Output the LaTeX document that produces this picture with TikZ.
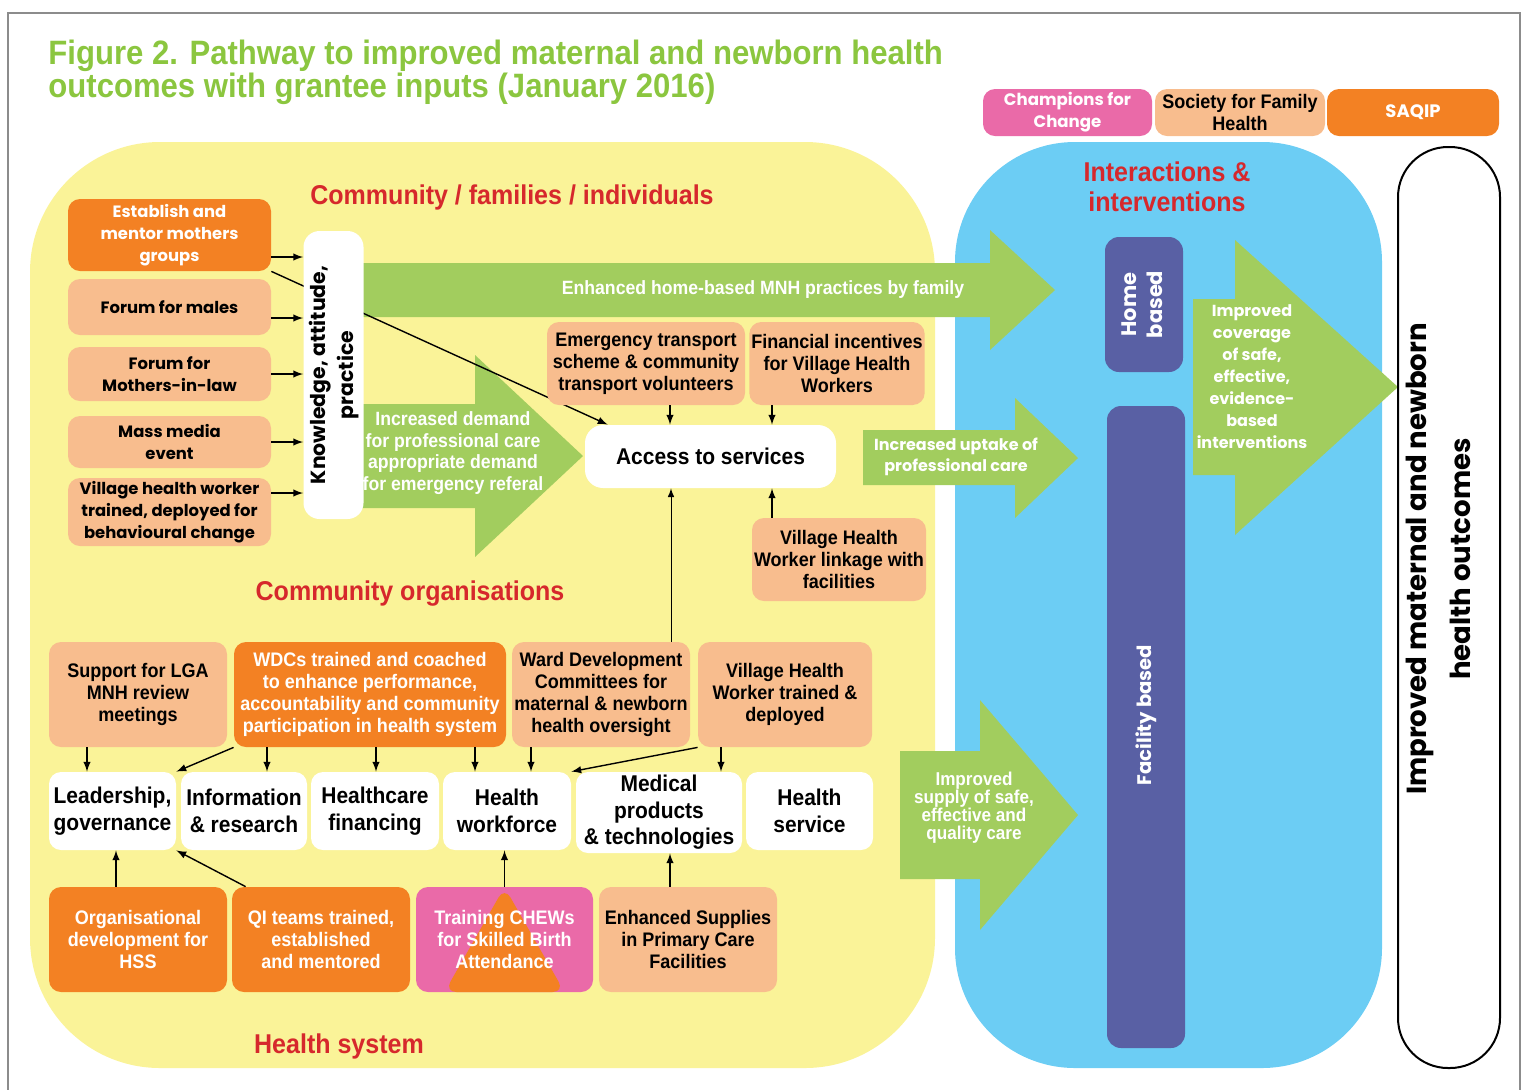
\documentclass[tikz,border=0pt]{standalone}
\usepackage{graphicx}
\usepackage{fontspec}
\setmainfont{Poppins}
\newfontfamily\condfont[FakeStretch=0.92]{Liberation Sans}
\usepackage{tikz}
\definecolor{HsYellow}{RGB}{250,243,152}
\definecolor{HsBlue}{RGB}{108,205,244}
\definecolor{HsIndigo}{RGB}{89,96,164}
\definecolor{HsOrange}{RGB}{243,129,35}
\definecolor{HsPeach}{RGB}{248,189,142}
\definecolor{HsPink}{RGB}{234,106,168}
\definecolor{HsGreen}{RGB}{162,205,94}
\definecolor{HsTitle}{RGB}{139,198,63}
\definecolor{HsRed}{RGB}{214,40,44}

\begin{document}
\begin{tikzpicture}[x=0.5pt,y=-0.5pt]
      \tikzstyle{box}=[rounded corners=6pt, align=center, inner sep=1pt, font=\condfont\bfseries\fontsize{9.8}{11}\selectfont];
      \tikzstyle{peach}=[box, fill=HsPeach];
      \tikzstyle{orng}=[box, fill=HsOrange, text=white];
      \tikzstyle{geo}=[font=\bfseries\fontsize{8.2}{11}\selectfont];
      \tikzstyle{sysbox}=[box, fill=white, font=\condfont\bfseries\fontsize{11.4}{13.3}\selectfont];
      \tikzstyle{band}=[rounded corners=7pt, fill=HsIndigo, text=white, inner sep=1pt];
      \tikzstyle{arr}=[-latex, line width=.7pt];
      \tikzstyle{garrow}=[fill=HsGreen];
      \tikzstyle{gtext}=[text=white, align=center, inner sep=0pt, font=\condfont\bfseries\fontsize{9.6}{10.8}\selectfont];
      \tikzstyle{heading}=[text=HsRed, align=center, inner sep=0pt, font=\condfont\bfseries\fontsize{13.6}{15}\selectfont];
      \tikzset{wh/.style 2 args={minimum width=#1*.5pt, minimum height=#2*.5pt}}

      \pgfdeclarelayer{background}
      \pgfdeclarelayer{middle}
      \pgfsetlayers{background,middle,main}

      \useasboundingbox (0,0) rectangle (1526,1089);
      \begin{pgfonlayer}{background}
        \draw[black!45, line width=1pt] (8,13) rectangle (1520,1110);
        \fill[HsYellow, rounded corners=65pt] (30,142) rectangle (935,1068);
        \fill[HsBlue, rounded corners=60pt] (955,142) rectangle (1382,1068);
      \end{pgfonlayer}

      \node[anchor=west, align=left, inner sep=0pt, text=HsTitle, font=\condfont\bfseries\fontsize{16.9}{16.5}\selectfont] (title) at (48,72) {Figure 2. Pathway to improved maternal and newborn health\\outcomes with grantee inputs (January 2016)};

      \node[box, fill=HsPink, text=white, wh={169}{47}, font=\bfseries\fontsize{8.3}{11}\selectfont] (champ) at (1067.5,112.5) {Champions for\\Change};
      \node[peach, wh={170}{47}] (sfh) at (1240,112.5) {Society for Family\\Health};
      \node[orng, wh={172}{47}, font=\bfseries\fontsize{9}{11}\selectfont] (saqip) at (1413,112.5) {SAQIP};

      \node[heading] (hcomm) at (512,197) {Community / families / individuals};
      \node[heading] (hinter) at (1167,187) {Interactions \&\\interventions};
      \node[heading] (horg) at (410,594) {Community organisations};
      \node[heading] (hsys) at (339,1046) {Health system};

      % community inputs
      \node[orng, geo, wh={203}{72}] (mothers) at (169.5,235) {Establish and\\mentor mothers\\groups};
      \node[peach, geo, wh={203}{56}] (males) at (169.5,307) {Forum for males};
      \node[peach, geo, wh={203}{54}] (inlaw) at (169.5,374) {Forum for\\Mothers-in-law};
      \node[peach, geo, wh={203}{52}] (media) at (169.5,442) {Mass media\\event};
      \node[peach, geo, wh={203}{68}] (vhw) at (169.5,512) {Village health worker\\trained, deployed for\\behavioural change};
      \node[box, fill=white, wh={51}{288}, rounded corners=8pt, font=\bfseries\fontsize{10.2}{14}\selectfont] (kap) at (333.5,375) {\rotatebox{90}{\begin{tabular}{@{}c@{}}Knowledge, attitude,\\practice\end{tabular}}};

      \node[peach, wh={198}{83}] (emerg) at (646,363.5) {Emergency transport\\scheme \& community\\transport volunteers};
      \node[peach, wh={170}{83}] (fininc) at (837,363.5) {Financial incentives\\for Village Health\\Workers};
      \node[box, fill=white, wh={251}{63}, rounded corners=9pt, font=\condfont\bfseries\fontsize{11.4}{13}\selectfont] (access) at (710.5,456.5) {Access to services};
      \node[peach, wh={170}{83}] (linkage) at (839,559.5) {Village Health\\Worker linkage with\\facilities};

      \node[band, wh={78}{135}, font=\bfseries\fontsize{10.5}{13}\selectfont] (home) at (1144,304.5) {\rotatebox{90}{\begin{tabular}{@{}c@{}}Home\\based\end{tabular}}};
      \node[band, wh={78}{642}, font=\bfseries\fontsize{9.8}{11}\selectfont] (facility) at (1146,727) {\rotatebox{90}{\hspace*{12pt}Facility based}};
      \node[draw, fill=white, line width=1pt, rounded corners=25pt, wh={102}{921}] (outcome) at (1449,607.5) {};
      \node[font=\bfseries\fontsize{13.8}{22}\selectfont] (outtext) at (1440,559) {\rotatebox{90}{\begin{tabular}{@{}c@{}}Improved maternal and newborn\\health outcomes\end{tabular}}};

      % health system
      \node[peach, wh={178}{105}] (lga) at (138,694.5) {Support for LGA\\MNH review\\meetings};
      \node[orng, wh={272}{105}] (wdc) at (370,694.5) {WDCs trained and coached\\to enhance performance,\\accountability and community\\participation in health system};
      \node[peach, wh={178}{105}] (ward) at (601,694.5) {Ward Development\\Committees for\\maternal \& newborn\\health oversight};
      \node[peach, wh={174}{105}] (vhwtd) at (785,694.5) {Village Health\\Worker trained \&\\deployed};

      \node[sysbox, wh={127}{78}] (lead) at (112.5,811) {Leadership,\\governance};
      \node[sysbox, wh={126}{78}] (info) at (244,811) {Information\\\& research};
      \node[sysbox, wh={128}{78}] (hfin) at (375,811) {Healthcare\\financing};
      \node[sysbox, wh={128}{78}] (wforce) at (507,811) {Health\\workforce};
      \node[sysbox, wh={166}{81}] (medprod) at (659,812.5) {Medical\\products\\\& technologies};
      \node[sysbox, wh={127}{78}] (hserv) at (809.5,811) {Health\\service};

      \node[orng, wh={178}{105}] (orgdev) at (138,939.5) {Organisational\\development for\\HSS};
      \node[orng, wh={178}{105}] (qiteam) at (321,939.5) {QI teams trained,\\established\\and mentored};
      \node[box, fill=HsPink, text=white, wh={177}{105}, path picture={\fill[HsOrange] (path picture bounding box.north) -- ([xshift=30pt]path picture bounding box.south) -- ([xshift=-30pt]path picture bounding box.south) -- cycle;}] (chews) at (504.5,939.5) {Training CHEWs\\for Skilled Birth\\Attendance};
      \node[peach, wh={178}{105}] (supplies) at (688,939.5) {Enhanced Supplies\\in Primary Care\\Facilities};

      \begin{pgfonlayer}{middle}
        \fill[garrow] (359,263) -- (990,263) -- (990,230) -- (1055,290) -- (990,350) -- (990,317) -- (359,317) -- cycle;
        \fill[garrow] (359,404) -- (475,404) -- (475,355) -- (583,456) -- (475,557) -- (475,508) -- (359,508) -- cycle;
        \fill[garrow] (863,430) -- (1015,430) -- (1015,398) -- (1078,458) -- (1015,518) -- (1015,485) -- (863,485) -- cycle;
        \fill[garrow] (1193,299) -- (1235,299) -- (1235,240) -- (1398,387) -- (1235,535) -- (1235,475) -- (1193,475) -- cycle;
        \fill[garrow] (900,751) -- (980,751) -- (980,700) -- (1078,815) -- (980,930) -- (980,879) -- (900,879) -- cycle;
        \draw[arr] (mothers.south east) -- ([xshift=11.5pt]access.north west);
      \end{pgfonlayer}

      \node[gtext] (tenh) at (763,290) {Enhanced home-based MNH practices by family};
      \node[gtext] (tdem) at (453,453) {Increased demand\\for professional care\\appropriate demand\\for emergency referal};
      \node[gtext, font=\bfseries\fontsize{8}{10.5}\selectfont] (tupt) at (956,457) {Increased uptake of\\professional care};
      \node[gtext, font=\bfseries\fontsize{8}{11}\selectfont] (tcov) at (1252,377) {Improved\\coverage\\of safe,\\effective,\\evidence-\\based\\interventions};
      \node[gtext, font=\condfont\bfseries\fontsize{9.3}{9}\selectfont] (tsup) at (974,808) {Improved\\supply of safe,\\effective and\\quality care};

      \draw[arr] ([yshift=-11pt]mothers.east) -- ([yshift=-11pt]mothers.east -| kap.west);
      \draw[arr] ([yshift=-5.5pt]males.east) -- ([yshift=-5.5pt]males.east -| kap.west);
      \draw[arr] (inlaw.east) -- (inlaw.east -| kap.west);
      \draw[arr] (media.east) -- (media.east -| kap.west);
      \draw[arr] ([yshift=9.5pt]vhw.east) -- ([yshift=9.5pt]vhw.east -| kap.west);

      \draw[arr] ([xshift=12pt]emerg.south) -- ([xshift=12pt]emerg.south |- access.north);
      \draw[arr] ([xshift=-32.5pt]fininc.south) -- ([xshift=-32.5pt]fininc.south |- access.north);
      \draw[arr] ([xshift=-33.5pt]linkage.north) -- ([xshift=-33.5pt]linkage.north |- access.south);
      \draw[-latex, line width=.5pt] ([xshift=35pt]ward.north) -- ([xshift=35pt]ward.north |- access.south);

      \draw[arr] ([xshift=-25.5pt]lga.south) -- ([xshift=-25.5pt]lga.south |- lead.north);
      \draw[arr] (wdc.south west) -- (lead.north east);
      \draw[arr] ([xshift=-51.5pt]wdc.south) -- ([xshift=-51.5pt]wdc.south |- info.north);
      \draw[arr] ([xshift=3pt]wdc.south) -- ([xshift=3pt]wdc.south |- hfin.north);
      \draw[arr] ([xshift=52.5pt]wdc.south) -- ([xshift=52.5pt]wdc.south |- wforce.north);
      \draw[arr] ([xshift=-35pt]ward.south) -- ([xshift=-35pt]ward.south |- wforce.north);
      \draw[arr] (vhwtd.south west) -- (wforce.north east);
      \draw[arr] ([xshift=-32pt]vhwtd.south) -- ([xshift=-32pt]vhwtd.south |- medprod.north);
      \draw[arr] ([xshift=-11pt]orgdev.north) -- ([xshift=-11pt]orgdev.north |- lead.south);
      \draw[arr] ([xshift=7pt]qiteam.north west) -- (lead.south east);
      \draw[arr] (chews.north) -- (chews.north |- wforce.south);
      \draw[arr] ([xshift=-9pt]supplies.north) -- ([xshift=-9pt]supplies.north |- medprod.south);
    \end{tikzpicture}
\end{document}
